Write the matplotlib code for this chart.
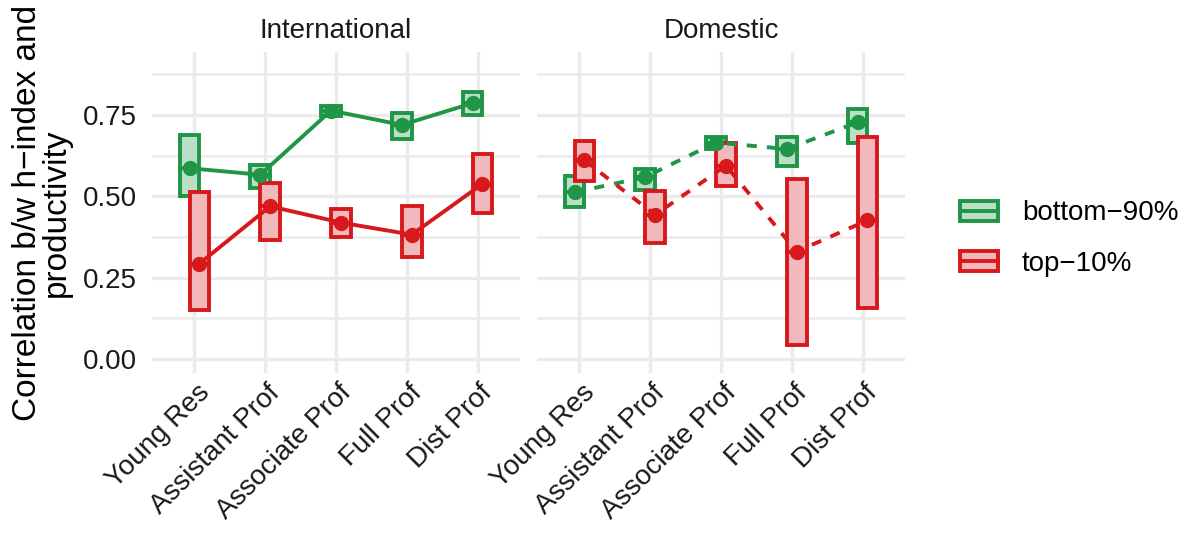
import numpy as np
import matplotlib
matplotlib.use("Agg")
from matplotlib import pyplot as plt
import matplotlib.patches as mpatches
import matplotlib.transforms as mtransforms
from matplotlib.lines import Line2D
from matplotlib.legend_handler import HandlerBase

plt.rcParams['font.family'] = ['Liberation Sans', 'DejaVu Sans']

categories = ["Young Res", "Assistant Prof", "Associate Prof", "Full Prof", "Dist Prof"]
panels = ["International", "Domestic"]
groups = ["bottom\u221290%", "top\u221210%"]

# International
intl_bottom = [0.586, 0.566, 0.763, 0.719, 0.786]
intl_bottom_lo = [0.501, 0.525, 0.745, 0.675, 0.750]
intl_bottom_hi = [0.689, 0.597, 0.778, 0.755, 0.820]
intl_top = [0.293, 0.469, 0.419, 0.382, 0.538]
intl_top_lo = [0.151, 0.366, 0.376, 0.313, 0.450]
intl_top_hi = [0.512, 0.542, 0.460, 0.471, 0.630]
# Domestic
dom_bottom = [0.512, 0.559, 0.665, 0.645, 0.727]
dom_bottom_lo = [0.467, 0.520, 0.645, 0.594, 0.663]
dom_bottom_hi = [0.561, 0.583, 0.683, 0.682, 0.768]
dom_top = [0.610, 0.443, 0.594, 0.330, 0.426]
dom_top_lo = [0.548, 0.356, 0.530, 0.044, 0.157]
dom_top_hi = [0.671, 0.517, 0.663, 0.553, 0.683]

data = {
    "International": [(intl_bottom, intl_bottom_lo, intl_bottom_hi),
                      (intl_top, intl_top_lo, intl_top_hi)],
    "Domestic": [(dom_bottom, dom_bottom_lo, dom_bottom_hi),
                 (dom_top, dom_top_lo, dom_top_hi)],
}

edge_cols = ["#1e9645", "#d7191c"]
fill_cols = ["#badfc6", "#f2b9bd"]
dodge = [-0.07, 0.07]
box_w = 0.28
linestyles = {"International": "-", "Domestic": (0, (2.6, 2.6))}
grid_col = "#ebebeb"
lw = 2.8


class CrossbarHandler(HandlerBase):
    def create_artists(self, legend, orig_handle, xdescent, ydescent,
                       width, height, fontsize, trans):
        r = mpatches.Rectangle((-xdescent + 1.5, -ydescent + 1.5), width - 3, height - 3,
                               facecolor=orig_handle.get_facecolor(),
                               edgecolor=orig_handle.get_edgecolor(),
                               linewidth=lw, transform=trans)
        ym = -ydescent + height / 2
        l = Line2D([-xdescent + 1.5, -xdescent + width - 1.5], [ym, ym],
                   color=orig_handle.get_edgecolor(), linewidth=lw, transform=trans)
        return [r, l]


fig = plt.figure(figsize=(11.84, 5.36), dpi=100)
ax_w = 368 / 1184
ax_h = 321 / 536
bottom = 1 - 373 / 536
lefts = [152 / 1184, 537 / 1184]

x = np.arange(1, len(categories) + 1)
axes = []
for pi, panel in enumerate(panels):
    ax = fig.add_axes([lefts[pi], bottom, ax_w, ax_h])
    axes.append(ax)
    ax.set_xlim(0.4, 5.6)
    ax.set_ylim(-0.043, 0.943)
    # grid
    for yv in [0, 0.25, 0.5, 0.75]:
        ax.axhline(yv, color=grid_col, lw=2.4, zorder=0)
    for yv in [0.125, 0.375, 0.625, 0.875]:
        ax.axhline(yv, color=grid_col, lw=1.8, zorder=0)
    for xv in x:
        ax.axvline(xv, color=grid_col, lw=2.4, zorder=0)

    for gi, (vals, lo, hi) in enumerate(data[panel]):
        xs = x + dodge[gi]
        for xi, v, l, h in zip(xs, vals, lo, hi):
            ax.add_patch(mpatches.Rectangle((xi - box_w / 2, l), box_w, h - l,
                                            facecolor=fill_cols[gi], edgecolor=edge_cols[gi],
                                            lw=lw, zorder=2 + gi))
            ax.plot([xi - box_w / 2, xi + box_w / 2], [v, v], color=edge_cols[gi],
                    lw=lw, zorder=2 + gi)
        ax.plot(xs, vals, color=edge_cols[gi], lw=lw, ls=linestyles[panel], zorder=4)
        ax.plot(xs, vals, 'o', color=edge_cols[gi], ms=10, zorder=5)

    for s in ax.spines.values():
        s.set_visible(False)
    ax.tick_params(axis="y", length=0, labelsize=20, colors="#1a1a1a", pad=11)
    ax.tick_params(axis="x", length=0, labelsize=20, colors="#1a1a1a", pad=5)
    ax.set_xticks(x)
    ax.set_xticklabels(categories, rotation=45, ha="right", rotation_mode="anchor")
    shift = mtransforms.ScaledTranslation(2 / 100, 0, fig.dpi_scale_trans)
    for lab in ax.get_xticklabels():
        lab.set_transform(lab.get_transform() + shift)
    ax.set_yticks([0, 0.25, 0.5, 0.75])
    if pi == 0:
        ax.set_yticklabels(["0.00", "0.25", "0.50", "0.75"])
    else:
        ax.set_yticklabels([])
    ax.set_title(panel, fontsize=20, pad=10, color="#1a1a1a")

axes[0].set_ylabel("Correlation b/w h\u2212index and\nproductivity", fontsize=24,
                   linespacing=0.9, labelpad=8)

handles = [mpatches.Patch(facecolor=fill_cols[i], edgecolor=edge_cols[i]) for i in range(2)]
fig.legend(handles, groups, loc="center left", bbox_to_anchor=(958 / 1184, 1 - 237.5 / 536),
           frameon=False, fontsize=20, handler_map={mpatches.Patch: CrossbarHandler()},
           handlelength=1.5, handleheight=1.0, labelspacing=0.8, handletextpad=0.8,
           borderpad=0, borderaxespad=0)

fig.savefig("out.png", dpi=100)
